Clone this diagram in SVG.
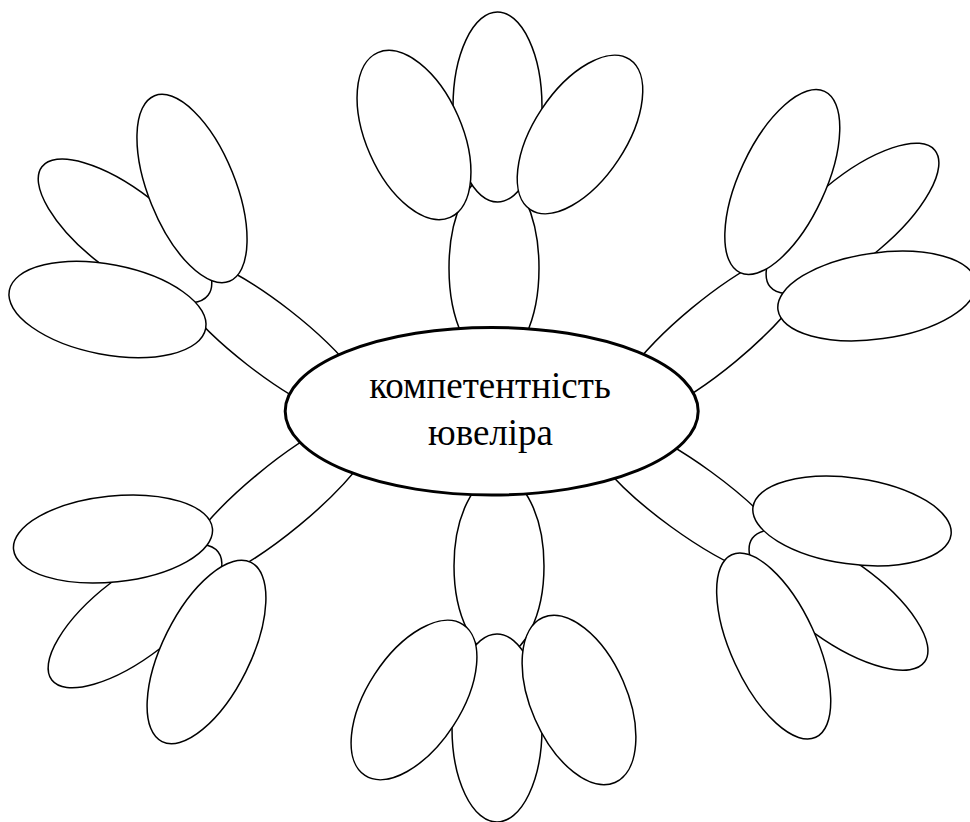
<svg xmlns="http://www.w3.org/2000/svg" width="970" height="822" viewBox="0 0 970 822">
<style>
  .e { fill: #ffffff; stroke: #000000; stroke-width: 1.5; }
  .c { fill: #ffffff; stroke: #000000; stroke-width: 3; }
  .t { font-family: "Liberation Serif", "Times New Roman", serif; font-size: 37px; fill: #000000; text-anchor: middle; }
</style>
<rect width="970" height="822" fill="#ffffff"/>
<g id="stems">
  <g id="stem-top"><ellipse class="e" cx="494" cy="268" rx="45" ry="95"/></g>
  <g id="stem-bottom"><ellipse class="e" cx="499" cy="566" rx="45" ry="90"/></g>
  <g id="stem-upper-left"><ellipse class="e" cx="0" cy="0" rx="130" ry="34.5" transform="translate(268.5 337.5) rotate(37.9)"/></g>
  <g id="stem-upper-right"><ellipse class="e" cx="0" cy="0" rx="130" ry="34.5" transform="translate(713.75 334.75) rotate(-39.6)"/></g>
  <g id="stem-lower-left"><ellipse class="e" cx="0" cy="0" rx="130" ry="33" transform="translate(278.5 499.75) rotate(-39.6)"/></g>
  <g id="stem-lower-right"><ellipse class="e" cx="0" cy="0" rx="130" ry="34" transform="translate(691 499.25) rotate(36)"/></g>
</g>
<g id="center">
  <ellipse class="c" cx="491.7" cy="411.2" rx="206.5" ry="83.8"/>
  <text class="t" x="490" y="398">компетентність</text>
  <text class="t" x="490.5" y="445">ювеліра</text>
</g>
<g id="top-branch">
  <g id="top-middle"><ellipse class="e" cx="497.5" cy="107" rx="44.5" ry="95"/></g>
  <g id="top-left"><ellipse class="e" cx="0" cy="0" rx="48" ry="90" transform="translate(414 135) rotate(-23.7)"/></g>
  <g id="top-right"><ellipse class="e" cx="0" cy="0" rx="46" ry="90" transform="translate(580 134.5) rotate(33.5)"/></g>
</g>
<g id="upper-left-branch">
  <g id="ul-middle"><ellipse class="e" cx="0" cy="0" rx="105" ry="41" transform="translate(125 231) rotate(37.7)"/></g>
  <g id="ul-upper"><ellipse class="e" cx="0" cy="0" rx="43.5" ry="100" transform="translate(192 188.5) rotate(-22)"/></g>
  <g id="ul-lower"><ellipse class="e" cx="0" cy="0" rx="100" ry="45" transform="translate(107.5 309.5) rotate(11)"/></g>
</g>
<g id="upper-right-branch">
  <g id="ur-middle"><ellipse class="e" cx="0" cy="0" rx="107" ry="41" transform="translate(852.5 218.5) rotate(-39.7)"/></g>
  <g id="ur-upper"><ellipse class="e" cx="0" cy="0" rx="43" ry="100" transform="translate(782.3 182) rotate(25)"/></g>
  <g id="ur-lower"><ellipse class="e" cx="0" cy="0" rx="100" ry="43" transform="translate(877 296) rotate(-8)"/></g>
</g>
<g id="lower-left-branch">
  <g id="ll-middle"><ellipse class="e" cx="0" cy="0" rx="105" ry="41" transform="translate(135 616) rotate(-37.6)"/></g>
  <g id="ll-upper"><ellipse class="e" cx="0" cy="0" rx="100" ry="43" transform="translate(113 539) rotate(-6)"/></g>
  <g id="ll-lower"><ellipse class="e" cx="0" cy="0" rx="44" ry="100" transform="translate(206.5 652) rotate(26.4)"/></g>
</g>
<g id="lower-right-branch">
  <g id="lr-middle"><ellipse class="e" cx="0" cy="0" rx="106" ry="41" transform="translate(838.5 600) rotate(35.6)"/></g>
  <g id="lr-upper"><ellipse class="e" cx="0" cy="0" rx="100" ry="43" transform="translate(852 521) rotate(8)"/></g>
  <g id="lr-lower"><ellipse class="e" cx="0" cy="0" rx="42.5" ry="100.5" transform="translate(773.7 646) rotate(-24.7)"/></g>
</g>
<g id="bottom-branch">
  <g id="bottom-middle"><ellipse class="e" cx="497" cy="728" rx="45" ry="94"/></g>
  <g id="bottom-left"><ellipse class="e" cx="0" cy="0" rx="47" ry="90" transform="translate(414 700) rotate(33)"/></g>
  <g id="bottom-right"><ellipse class="e" cx="0" cy="0" rx="48" ry="90" transform="translate(579 700) rotate(-23.6)"/></g>
</g>
</svg>
